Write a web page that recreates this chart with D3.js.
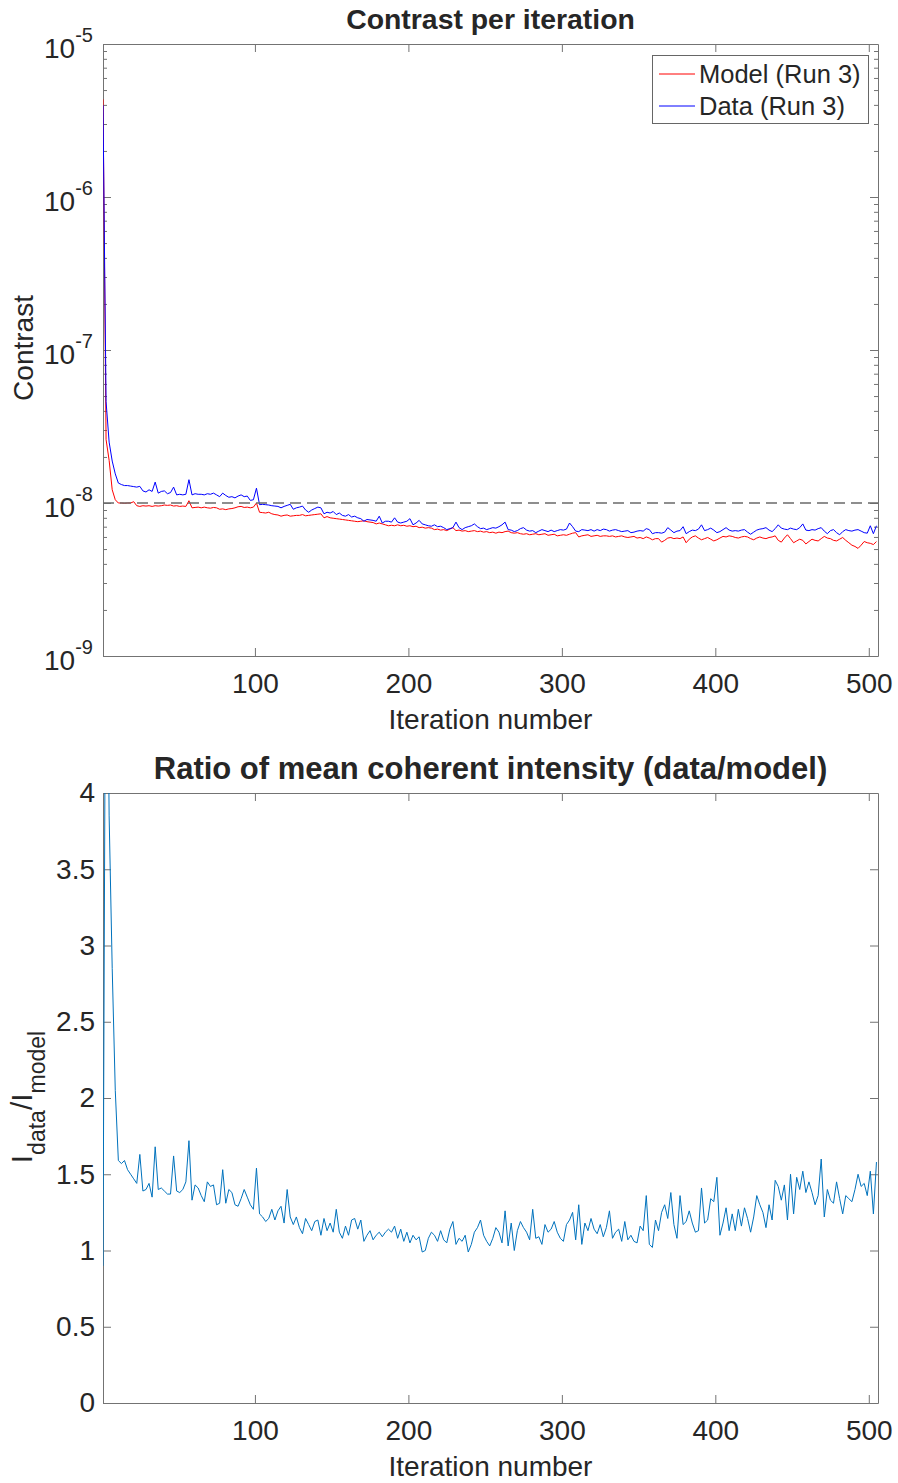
<!DOCTYPE html>
<html>
<head>
<meta charset="utf-8">
<script src="https://cdn.jsdelivr.net/npm/d3@7"></script>
<style>
  body { margin: 0; background: #fff; }
  text { font-family: "Liberation Sans", Arial, Helvetica, sans-serif; fill: #262626; }
</style>
</head>
<body>
<svg id="chart" width="898" height="1483"></svg>
<script>
var iterations = d3.range(1, 507, 2);

// contrast values, in units of 1e-8
var contrastUnit = 1e-8;
var modelContrast = [
    435, 2.6, 1.9, 1.22, 1.05, 1.00, 1.00, 0.995, 1.00, 1.00,
    1.02, 0.96, 0.95, 0.96, 0.955, 0.96, 0.95, 0.96, 0.955, 0.96,
    0.97, 0.965, 0.97, 0.955, 0.96, 0.95, 0.955, 0.95, 1.035, 0.93,
    0.935, 0.94, 0.93, 0.94, 0.93, 0.925, 0.935, 0.93, 0.91, 0.915,
    0.905, 0.915, 0.92, 0.93, 0.945, 0.95, 0.935, 0.94, 0.93, 0.94,
    1.00, 0.87, 0.865, 0.86, 0.87, 0.85, 0.84, 0.835, 0.82, 0.83,
    0.835, 0.82, 0.825, 0.83, 0.83, 0.84, 0.825, 0.83, 0.835, 0.84,
    0.845, 0.85, 0.80, 0.815, 0.80, 0.795, 0.79, 0.785, 0.78, 0.775,
    0.77, 0.765, 0.76, 0.755, 0.76, 0.765, 0.755, 0.75, 0.745, 0.73,
    0.74, 0.73, 0.72, 0.71, 0.715, 0.71, 0.72, 0.71, 0.715, 0.705,
    0.71, 0.70, 0.705, 0.69, 0.695, 0.685, 0.69, 0.685, 0.67, 0.675,
    0.665, 0.67, 0.66, 0.675, 0.69, 0.66, 0.665, 0.655, 0.66, 0.65,
    0.655, 0.66, 0.65, 0.655, 0.645, 0.65, 0.64, 0.645, 0.635, 0.645,
    0.64, 0.65, 0.655, 0.64, 0.635, 0.64, 0.63, 0.625, 0.63, 0.62,
    0.625, 0.63, 0.62, 0.625, 0.63, 0.615, 0.62, 0.625, 0.61, 0.615,
    0.62, 0.615, 0.625, 0.635, 0.64, 0.60, 0.61, 0.615, 0.62, 0.605,
    0.61, 0.615, 0.605, 0.61, 0.61, 0.605, 0.61, 0.60, 0.605, 0.61,
    0.60, 0.595, 0.60, 0.605, 0.59, 0.595, 0.585, 0.60, 0.59, 0.575,
    0.585, 0.585, 0.555, 0.57, 0.59, 0.595, 0.585, 0.59, 0.585, 0.60,
    0.55, 0.58, 0.60, 0.61, 0.59, 0.575, 0.585, 0.595, 0.58, 0.565,
    0.575, 0.59, 0.605, 0.60, 0.61, 0.605, 0.595, 0.59, 0.60, 0.605,
    0.60, 0.585, 0.575, 0.59, 0.60, 0.59, 0.585, 0.595, 0.60, 0.61,
    0.57, 0.555, 0.59, 0.62, 0.585, 0.55, 0.565, 0.58, 0.57, 0.54,
    0.56, 0.58, 0.57, 0.565, 0.585, 0.605, 0.59, 0.585, 0.57, 0.565,
    0.58, 0.595, 0.57, 0.55, 0.53, 0.52, 0.505, 0.53, 0.56, 0.55,
    0.545, 0.535, 0.56
];
var dataContrast = [
    398, 4.6, 2.5, 1.88, 1.55, 1.35, 1.32, 1.30, 1.30, 1.29,
    1.28, 1.27, 1.285, 1.20, 1.18, 1.22, 1.19, 1.37, 1.16, 1.19,
    1.20, 1.15, 1.17, 1.27, 1.13, 1.14, 1.13, 1.14, 1.42, 1.13,
    1.15, 1.14, 1.14, 1.13, 1.15, 1.14, 1.16, 1.13, 1.10, 1.16,
    1.12, 1.09, 1.10, 1.08, 1.11, 1.13, 1.10, 1.11, 1.04, 1.05,
    1.25, 0.975, 0.98, 0.975, 0.97, 0.96, 0.955, 0.95, 0.93, 0.95,
    0.965, 0.98, 0.91, 0.93, 0.94, 0.955, 0.90, 0.87, 0.90, 0.92,
    0.94, 0.93, 0.85, 0.87, 0.86, 0.88, 0.84, 0.86, 0.83, 0.82,
    0.84, 0.81, 0.82, 0.80, 0.79, 0.76, 0.78, 0.775, 0.77, 0.76,
    0.82, 0.74, 0.76, 0.76, 0.75, 0.80, 0.75, 0.74, 0.75, 0.76,
    0.79, 0.72, 0.74, 0.77, 0.73, 0.72, 0.71, 0.705, 0.72, 0.70,
    0.705, 0.69, 0.67, 0.68, 0.69, 0.75, 0.69, 0.67, 0.69, 0.70,
    0.71, 0.73, 0.70, 0.68, 0.685, 0.67, 0.68, 0.69, 0.685, 0.70,
    0.72, 0.75, 0.67, 0.665, 0.65, 0.66, 0.68, 0.69, 0.665, 0.655,
    0.66, 0.64, 0.655, 0.67, 0.66, 0.65, 0.665, 0.65, 0.66, 0.67,
    0.665, 0.675, 0.74, 0.70, 0.655, 0.65, 0.67, 0.665, 0.66, 0.67,
    0.655, 0.67, 0.66, 0.675, 0.67, 0.655, 0.665, 0.67, 0.66, 0.65,
    0.655, 0.66, 0.64, 0.645, 0.655, 0.66, 0.655, 0.68, 0.67, 0.63,
    0.64, 0.64, 0.635, 0.645, 0.69, 0.665, 0.64, 0.655, 0.66, 0.70,
    0.63, 0.65, 0.665, 0.66, 0.675, 0.72, 0.66, 0.67, 0.685, 0.665,
    0.64, 0.65, 0.67, 0.69, 0.665, 0.655, 0.66, 0.655, 0.665, 0.67,
    0.645, 0.625, 0.645, 0.665, 0.675, 0.68, 0.69, 0.665, 0.65, 0.68,
    0.72, 0.685, 0.675, 0.67, 0.685, 0.675, 0.67, 0.69, 0.73, 0.665,
    0.66, 0.67, 0.665, 0.68, 0.69, 0.655, 0.63, 0.66, 0.67, 0.64,
    0.62, 0.65, 0.67, 0.66, 0.655, 0.665, 0.67, 0.655, 0.64, 0.635,
    0.71, 0.63, 0.71
];

// ratio of mean coherent intensity (data/model)
var intensityRatio = [
    0.90, 6.0, 3.85, 2.85, 2.05, 1.59, 1.57, 1.59, 1.53, 1.50,
    1.47, 1.44, 1.63, 1.39, 1.40, 1.44, 1.35, 1.68, 1.40, 1.41,
    1.39, 1.37, 1.37, 1.62, 1.39, 1.38, 1.40, 1.45, 1.72, 1.33,
    1.43, 1.41, 1.36, 1.32, 1.45, 1.42, 1.43, 1.30, 1.31, 1.53,
    1.31, 1.40, 1.38, 1.30, 1.29, 1.34, 1.40, 1.35, 1.30, 1.27,
    1.54, 1.24, 1.22, 1.19, 1.21, 1.27, 1.20, 1.26, 1.29, 1.18,
    1.40, 1.22, 1.17, 1.22, 1.15, 1.11, 1.21, 1.17, 1.13, 1.19,
    1.20, 1.10, 1.21, 1.13, 1.18, 1.12, 1.27, 1.12, 1.08, 1.16,
    1.10, 1.20, 1.21, 1.14, 1.20, 1.06, 1.10, 1.13, 1.07, 1.10,
    1.12, 1.09, 1.12, 1.14, 1.12, 1.16, 1.08, 1.14, 1.06, 1.12,
    1.05, 1.10, 1.07, 1.09, 0.99, 1.00, 1.08, 1.12, 1.10, 1.06,
    1.13, 1.07, 1.05, 1.14, 1.19, 1.04, 1.08, 1.06, 1.10, 0.99,
    1.04, 1.12, 1.15, 1.20, 1.10, 1.06, 1.03, 1.08, 1.15, 1.12,
    1.05, 1.26, 1.03, 1.18, 1.00, 1.13, 1.19, 1.15, 1.12, 1.07,
    1.27, 1.08, 1.09, 1.04, 1.17, 1.12, 1.14, 1.19, 1.12, 1.08,
    1.06, 1.17, 1.20, 1.25, 1.07, 1.30, 1.04, 1.18, 1.13, 1.21,
    1.14, 1.11, 1.17, 1.09, 1.15, 1.26, 1.08, 1.12, 1.14, 1.06,
    1.19, 1.07, 1.10, 1.06, 1.05, 1.16, 1.13, 1.36, 1.04, 1.02,
    1.20, 1.13, 1.25, 1.30, 1.21, 1.38, 1.17, 1.08, 1.36, 1.17,
    1.19, 1.26, 1.18, 1.12, 1.13, 1.41, 1.18, 1.20, 1.34, 1.32,
    1.48, 1.10, 1.18, 1.28, 1.13, 1.24, 1.13, 1.27, 1.16, 1.28,
    1.21, 1.12, 1.22, 1.36, 1.30, 1.25, 1.15, 1.30, 1.20, 1.46,
    1.42, 1.33, 1.43, 1.20, 1.50, 1.24, 1.48, 1.40, 1.52, 1.38,
    1.45, 1.38, 1.30, 1.36, 1.60, 1.22, 1.40, 1.33, 1.31, 1.45,
    1.34, 1.24, 1.36, 1.34, 1.32, 1.40, 1.50, 1.42, 1.44, 1.36,
    1.52, 1.24, 1.58
];

var xTicks = [100, 200, 300, 400, 500];
var contrastTicks = [1e-9, 1e-8, 1e-7, 1e-6, 1e-5];
var ratioTicks = [0, 0.5, 1, 1.5, 2, 2.5, 3, 3.5, 4];
var contrastTarget = 1e-8;
var legendLabels = ["Model (Run 3)", "Data (Run 3)"];

// layout
var left = 103, right = 878;
var top1 = 44, bottom1 = 656;
var top2 = 793, bottom2 = 1403;
var axisColor = "#737373";

var svg = d3.select("#chart");
svg.append("rect").attr("width", 898).attr("height", 1483).attr("fill", "#fff");

var x = d3.scaleLinear().domain([1, 506]).range([left, right]);
var yC = d3.scaleLog().domain([1e-9, 1e-5]).range([bottom1, top1]);
var yR = d3.scaleLinear().domain([0, 4]).range([bottom2, top2]);

// minor log ticks
var minorTicks = [];
[-9, -8, -7, -6].forEach(function(e) {
    for (var k = 2; k <= 9; k++) minorTicks.push(k * Math.pow(10, e));
});

var defs = svg.append("defs");
defs.append("clipPath").attr("id", "clipTop").append("rect")
    .attr("x", left).attr("y", top1).attr("width", right - left).attr("height", bottom1 - top1);
defs.append("clipPath").attr("id", "clipBot").append("rect")
    .attr("x", left).attr("y", top2).attr("width", right - left).attr("height", bottom2 - top2);

function styleAxis(g) {
    g.attr("font-size", 28).attr("font-family", null).style("color", axisColor);
    g.selectAll("line").attr("stroke-width", 1);
    g.select(".domain").attr("stroke-width", 1);
}

// draws box with ticks on all four sides
function drawFrame(y, yTop, yBottom, yTicks, yFormat, minor) {
    svg.append("g").attr("transform", "translate(0," + yBottom + ")")
        .call(d3.axisBottom(x).tickValues(xTicks).tickSizeInner(-8).tickSizeOuter(0).tickPadding(17))
        .call(styleAxis);
    svg.append("g").attr("transform", "translate(0," + yTop + ")")
        .call(d3.axisTop(x).tickValues(xTicks).tickSizeInner(-8).tickSizeOuter(0).tickFormat(""))
        .call(styleAxis);
    var gL = svg.append("g").attr("transform", "translate(" + left + ",0)")
        .call(d3.axisLeft(y).tickValues(yTicks).tickSizeInner(-8).tickSizeOuter(0).tickPadding(yFormat ? 8 : 10)
            .tickFormat(yFormat || function() { return ""; }))
        .call(styleAxis);
    svg.append("g").attr("transform", "translate(" + right + ",0)")
        .call(d3.axisRight(y).tickValues(yTicks).tickSizeInner(-8).tickSizeOuter(0).tickFormat(""))
        .call(styleAxis);
    if (minor) {
        [[d3.axisLeft, left], [d3.axisRight, right]].forEach(function(a) {
            var gm = svg.append("g").attr("transform", "translate(" + a[1] + ",0)")
                .call(a[0](y).tickValues(minor).tickSizeInner(-4).tickSizeOuter(0).tickFormat(""))
                .call(styleAxis);
            gm.select(".domain").remove();
        });
    }
    return gL;
}

// ---------- top panel: contrast ----------
var gLeft1 = drawFrame(yC, top1, bottom1, contrastTicks, null, minorTicks);
gLeft1.selectAll(".tick text").attr("dy", null).each(function(d) {
    var t = d3.select(this);
    t.append("tspan").attr("dy", 13).text("10");
    t.append("tspan").attr("dy", -16).attr("font-size", 20).text(Math.round(Math.log10(d)));
});

var lineC = d3.line()
    .x(function(d, i) { return x(iterations[i]); })
    .y(function(d) { return yC(d * contrastUnit); });

var plot1 = svg.append("g").attr("clip-path", "url(#clipTop)");
plot1.append("path").datum(modelContrast)
    .attr("d", lineC).attr("fill", "none").attr("stroke", "#ff0000").attr("stroke-width", 1);
plot1.append("path").datum(dataContrast)
    .attr("d", lineC).attr("fill", "none").attr("stroke", "#0000ff").attr("stroke-width", 1);
plot1.append("line")
    .attr("x1", x(1)).attr("x2", x(506))
    .attr("y1", yC(contrastTarget)).attr("y2", yC(contrastTarget))
    .attr("stroke", "#6a6a6a").attr("stroke-width", 1.5).attr("stroke-dasharray", "11,6");

svg.append("text").attr("x", (left + right) / 2).attr("y", 29)
    .attr("text-anchor", "middle").attr("font-size", 28.4).attr("font-weight", "bold")
    .text("Contrast per iteration");
svg.append("text").attr("x", (left + right) / 2).attr("y", bottom1 + 73)
    .attr("text-anchor", "middle").attr("font-size", 28)
    .text("Iteration number");
svg.append("text").attr("transform", "translate(33,348) rotate(-90)")
    .attr("text-anchor", "middle").attr("font-size", 28)
    .text("Contrast");

// legend
var legend = svg.append("g");
legend.append("rect").attr("x", 652.5).attr("y", 55.5).attr("width", 216).attr("height", 68)
    .attr("fill", "#fff").attr("stroke", "#666").attr("stroke-width", 1);
var legendColors = ["#ff0000", "#0000ff"];
legendLabels.forEach(function(lbl, i) {
    var ly = 74 + i * 32;
    legend.append("line").attr("x1", 659).attr("x2", 695).attr("y1", ly).attr("y2", ly)
        .attr("stroke", legendColors[i]).attr("stroke-width", 1);
    legend.append("text").attr("x", 699).attr("y", ly + 9).attr("font-size", 25.5).text(lbl);
});

// ---------- bottom panel: intensity ratio ----------
drawFrame(yR, top2, bottom2, ratioTicks, function(d) { return String(d); }, null);

var lineR = d3.line()
    .x(function(d, i) { return x(iterations[i]); })
    .y(function(d) { return yR(d); });

svg.append("g").attr("clip-path", "url(#clipBot)")
    .append("path").datum(intensityRatio)
    .attr("d", lineR).attr("fill", "none").attr("stroke", "#0072bd").attr("stroke-width", 1);

svg.append("text").attr("x", (left + right) / 2).attr("y", 779)
    .attr("text-anchor", "middle").attr("font-size", 31).attr("font-weight", "bold")
    .text("Ratio of mean coherent intensity (data/model)");
svg.append("text").attr("x", (left + right) / 2).attr("y", bottom2 + 73)
    .attr("text-anchor", "middle").attr("font-size", 28)
    .text("Iteration number");

var ylab = svg.append("text").attr("transform", "translate(32,1097) rotate(-90)")
    .attr("text-anchor", "middle").attr("font-size", 30);
ylab.append("tspan").text("I");
ylab.append("tspan").attr("dy", 13).attr("font-size", 23).text("data");
ylab.append("tspan").attr("dy", -13).text("/I");
ylab.append("tspan").attr("dy", 13).attr("font-size", 23).text("model");
</script>
</body>
</html>
